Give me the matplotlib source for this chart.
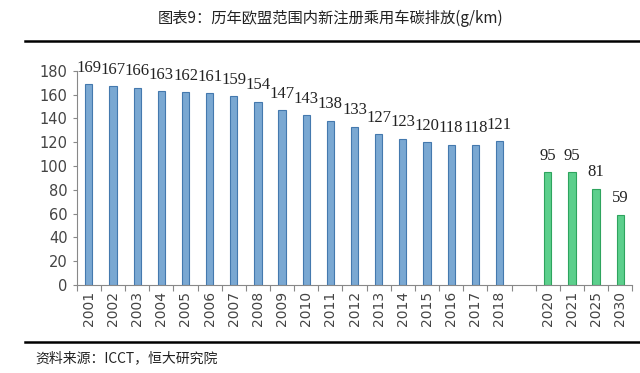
import matplotlib.pyplot as plt
from matplotlib.lines import Line2D

years = ['2001', '2002', '2003', '2004', '2005', '2006', '2007', '2008', '2009',
         '2010', '2011', '2012', '2013', '2014', '2015', '2016', '2017', '2018']
hist_values = [169, 167, 166, 163, 162, 161, 159, 154, 147,
               143, 138, 133, 127, 123, 120, 118, 118, 121]
target_years = ['2020', '2021', '2025', '2030']
target_values = [95, 95, 81, 59]

title = '图表9：历年欧盟范围内新注册乘用车碳排放(g/km)'
source = '资料来源：ICCT，恒大研究院'

cjk = ['Noto Sans CJK SC', 'DejaVu Sans']

fig = plt.figure(figsize=(6.4, 3.73), dpi=100)
ax = fig.add_axes([0.120, 0.236, 0.868, 0.574])

# slots: history, one empty slot, then targets
hist_x = list(range(len(years)))
gap = len(years)
target_x = [gap + 1 + i for i in range(len(target_years))]
labels = years + [''] + target_years
n = len(labels)

ax.bar(hist_x, hist_values, width=0.3, color='#7aa8d2', edgecolor='#4479ae', linewidth=0.8)
ax.bar(target_x, target_values, width=0.3, color='#5ccf8c', edgecolor='#2ea45e', linewidth=0.8)

for x, v in zip(hist_x + target_x, hist_values + target_values):
    ax.annotate(str(v), (x, v), xytext=(0, 6), textcoords='offset points',
                ha='center', va='bottom', fontsize=12, family='Liberation Serif',
                color='#222222', annotation_clip=False)

ax.set_xlim(-0.5, n - 0.5)
ax.set_ylim(0, 180)
ax.set_yticks(range(0, 181, 20))
ax.tick_params(axis='y', labelsize=10.5, colors='#888888', length=3, width=0.8, direction='out')
for t in ax.get_yticklabels():
    t.set_color('#444444')

ax.set_xticks(range(n))
ax.set_xticklabels(labels, rotation=90, fontsize=10, color='#444444')
ax.tick_params(axis='x', length=0, pad=4)
ax.set_xticks([i - 0.5 for i in range(n + 1)], minor=True)
ax.tick_params(axis='x', which='minor', length=4, width=0.8, color='#888888', direction='out')

for s in ['top', 'right']:
    ax.spines[s].set_visible(False)
ax.spines['left'].set_color('#888888')
ax.spines['bottom'].set_color('#888888')

fig.text(0.516, 0.952, title, ha='center', va='center', fontsize=11, family=cjk, color='#222222')
fig.add_artist(Line2D([0.039, 1.0], [0.889, 0.889], color='black', linewidth=1.8))
fig.add_artist(Line2D([0.039, 1.0], [0.083, 0.083], color='black', linewidth=1.8))
fig.text(0.055, 0.040, source, ha='left', va='center', fontsize=10, family=cjk,
         style='italic', color='#222222')

fig.savefig('out.png', dpi=100)
